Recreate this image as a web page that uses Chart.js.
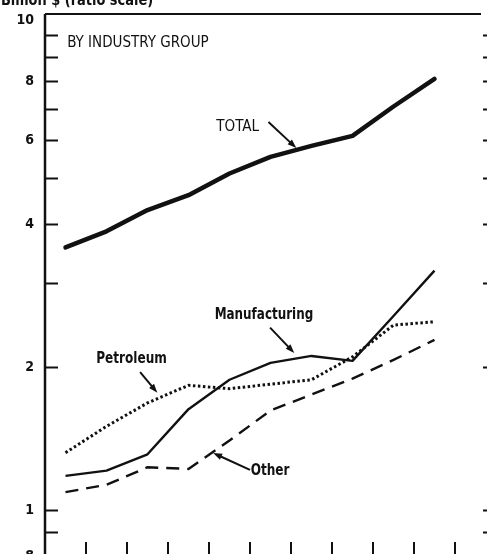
<!DOCTYPE html>
<html>
<head>
<meta charset="utf-8">
<script src="https://cdn.jsdelivr.net/npm/chart.js@4/dist/chart.umd.min.js"></script>
<style>
  html, body { margin: 0; padding: 0; background: #fff; overflow: hidden; }
  #wrap { width: 487px; height: 554px; overflow: hidden; position: relative; }
  canvas { display: block; }
</style>
</head>
<body>
<div id="wrap"><canvas id="c" width="500" height="560"></canvas></div>
<script>
// Ten annual periods; each value is plotted at the middle of its year slot.
const yearSlots = [0, 1, 2, 3, 4, 5, 6, 7, 8, 9];

// Billion dollars, ratio scale
const total         = [3.57, 3.86, 4.28, 4.60, 5.11, 5.54, 5.84, 6.13, 7.07, 8.08];
const manufacturing = [1.18, 1.21, 1.31, 1.63, 1.88, 2.04, 2.11, 2.06, 2.56, 3.19];
const petroleum     = [1.32, 1.50, 1.68, 1.83, 1.80, 1.84, 1.88, 2.10, 2.45, 2.49];
const other         = [1.09, 1.13, 1.23, 1.22, 1.40, 1.62, 1.75, 1.89, 2.07, 2.28];

// Axis ticks
const yTickValues = [0.9, 1, 2, 3, 4, 5, 6, 7, 8, 9, 10];
const yTickLabels = [[0.8, '.8'], [1, '1'], [2, '2'], [4, '4'], [6, '6'], [8, '8'], [10, '10']];
const xTickValues = [1, 2, 3, 4, 5, 6, 7, 8, 9, 10];

const FONT = '"Liberation Sans Narrow", "DejaVu Sans Condensed", "Arial Narrow", sans-serif';
const INK = '#111';

const pts = arr => yearSlots.map((s, i) => ({ x: s + 0.5, y: arr[i] }));

// Callouts in data coordinates: text anchor and arrow tail -> head
const callouts = [
  { text: 'TOTAL', weight: 'normal', size: 16, squeeze: 0.94, at: [4.70, 6.40], tail: [5.45, 6.56], head: [6.13, 5.78] },
  { text: 'Manufacturing', weight: 'bold', size: 16, squeeze: 0.83, at: [5.34, 2.57], tail: [5.49, 2.42], head: [6.08, 2.14] },
  { text: 'Petroleum', weight: 'bold', size: 16, squeeze: 0.84, at: [2.11, 2.08], tail: [2.32, 1.95], head: [2.74, 1.765] },
  { text: 'Other', weight: 'bold', size: 16, squeeze: 0.84, at: [5.49, 1.208], tail: [5.00, 1.214], head: [4.10, 1.318] }
];

// Draws text narrowed horizontally around its anchor point
function narrowText(ctx, text, x, y, squeeze) {
  ctx.save();
  ctx.translate(x, y);
  ctx.scale(squeeze, 1);
  ctx.fillText(text, 0, 0);
  ctx.restore();
}

function arrow(ctx, x1, y1, x2, y2) {
  const a = Math.atan2(y2 - y1, x2 - x1);
  const len = 9, half = 3.2;
  ctx.beginPath();
  ctx.moveTo(x1, y1);
  ctx.lineTo(x2 - Math.cos(a) * len * 0.6, y2 - Math.sin(a) * len * 0.6);
  ctx.lineWidth = 2;
  ctx.stroke();
  ctx.beginPath();
  ctx.moveTo(x2, y2);
  ctx.lineTo(x2 - Math.cos(a) * len - Math.sin(a) * half, y2 - Math.sin(a) * len + Math.cos(a) * half);
  ctx.lineTo(x2 - Math.cos(a) * len + Math.sin(a) * half, y2 - Math.sin(a) * len - Math.cos(a) * half);
  ctx.closePath();
  ctx.fill();
}

const framePlugin = {
  id: 'frame',
  beforeDatasetsDraw(chart) {
    const { ctx, chartArea: ca, scales: { x, y } } = chart;
    ctx.save();
    ctx.strokeStyle = INK;
    ctx.lineCap = 'butt';
    // left axis and top rule
    ctx.lineWidth = 2.5;
    ctx.beginPath();
    ctx.moveTo(ca.left, ca.bottom);
    ctx.lineTo(ca.left, ca.top);
    ctx.stroke();
    ctx.lineWidth = 2;
    ctx.beginPath();
    ctx.moveTo(ca.left, ca.top);
    ctx.lineTo(ca.right - 15, ca.top);
    ctx.stroke();
    // inward ticks on both vertical sides
    ctx.lineWidth = 2;
    yTickValues.forEach(v => {
      const py = Math.round(y.getPixelForValue(v)) + 0.5;
      ctx.beginPath();
      ctx.moveTo(ca.left, py);
      ctx.lineTo(ca.left + 13, py);
      ctx.moveTo(ca.right, py);
      ctx.lineTo(ca.right - 13, py);
      ctx.stroke();
    });
    // year boundaries along the bottom
    xTickValues.forEach(v => {
      const px = Math.round(x.getPixelForValue(v));
      ctx.beginPath();
      ctx.moveTo(px, ca.bottom);
      ctx.lineTo(px, ca.bottom - 14);
      ctx.stroke();
    });
    // y labels
    ctx.fillStyle = INK;
    ctx.font = 'bold 14px ' + FONT;
    ctx.textAlign = 'right';
    ctx.textBaseline = 'middle';
    yTickLabels.forEach(([v, t]) => {
      let py = y.getPixelForValue(v);
      if (v === 10) py = ca.top + 6; // top label sits at the frame corner
      ctx.fillText(t, ca.left - 11, py);
    });
    // unit caption
    ctx.textAlign = 'left';
    ctx.textBaseline = 'alphabetic';
    ctx.font = 'bold 16px ' + FONT;
    narrowText(ctx, 'Billion $ (ratio scale)', 1, 5, 0.9);
    ctx.restore();
  },
  afterDatasetsDraw(chart) {
    const { ctx, scales: { x, y } } = chart;
    ctx.save();
    ctx.fillStyle = INK;
    ctx.strokeStyle = INK;
    ctx.font = '15px ' + FONT;
    ctx.textAlign = 'left';
    ctx.textBaseline = 'middle';
    ctx.fillText('BY INDUSTRY GROUP', x.getPixelForValue(0.54), y.getPixelForValue(9.62));
    ctx.textAlign = 'center';
    callouts.forEach(c => {
      ctx.font = c.weight + ' ' + c.size + 'px ' + FONT;
      narrowText(ctx, c.text, x.getPixelForValue(c.at[0]), y.getPixelForValue(c.at[1]), c.squeeze);
      arrow(ctx,
        x.getPixelForValue(c.tail[0]), y.getPixelForValue(c.tail[1]),
        x.getPixelForValue(c.head[0]), y.getPixelForValue(c.head[1]));
    });
    ctx.restore();
  }
};

new Chart(document.getElementById('c'), {
  type: 'line',
  data: {
    datasets: [
      { label: 'Total', data: pts(total), borderColor: INK, borderWidth: 4.5, borderCapStyle: 'round', borderJoinStyle: 'round' },
      { label: 'Manufacturing', data: pts(manufacturing), borderColor: INK, borderWidth: 2.4, borderJoinStyle: 'round' },
      { label: 'Petroleum', data: pts(petroleum), borderColor: INK, borderWidth: 3, borderDash: [2.5, 2.5] },
      { label: 'Other', data: pts(other), borderColor: INK, borderWidth: 2.4, borderDash: [13, 8] }
    ]
  },
  options: {
    responsive: false,
    animation: false,
    events: [],
    layout: { padding: { left: 45, top: 14, right: 4, bottom: 4 } },
    elements: { point: { radius: 0 }, line: { tension: 0, fill: false } },
    plugins: { legend: { display: false }, tooltip: { enabled: false } },
    scales: {
      x: { type: 'linear', min: 0, max: 11, display: false },
      y: { type: 'logarithmic', min: 0.8, max: 11.07, display: false }
    }
  },
  plugins: [framePlugin]
});
</script>
</body>
</html>
